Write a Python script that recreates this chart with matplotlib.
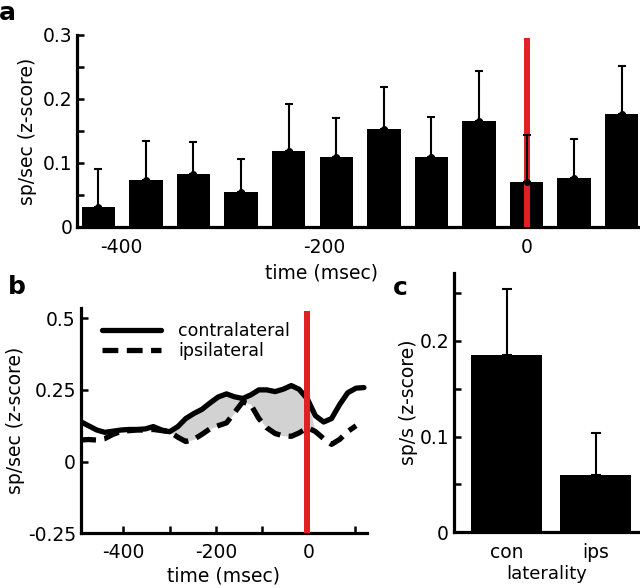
import numpy as np
import matplotlib
matplotlib.use("Agg")
import matplotlib.pyplot as plt

plt.rcParams['font.family'] = ['DejaVu Sans']
plt.rcParams['axes.unicode_minus'] = False

# panel a: binned firing rate
bin_time = [-423, -376, -329, -282, -235, -188, -141, -94, -47, 0, 47, 94]
bin_rate = [0.031, 0.073, 0.082, 0.055, 0.119, 0.110, 0.153, 0.109, 0.166, 0.070, 0.076, 0.177]
bin_err = [0.060, 0.061, 0.051, 0.051, 0.073, 0.060, 0.066, 0.063, 0.077, 0.073, 0.062, 0.075]

# panel b: smoothed traces
trace_time = [-493, -475, -457, -440, -422, -405, -387, -370, -352, -335, -317, -300,
              -282, -265, -247, -230, -212, -195, -177, -160, -142, -125, -107, -90,
              -72, -55, -37, -20, -2, 15, 33, 50, 68, 85, 103, 120]
contra = [0.140, 0.125, 0.110, 0.102, 0.106, 0.110, 0.112, 0.112, 0.114, 0.122, 0.110, 0.104,
          0.122, 0.150, 0.168, 0.182, 0.205, 0.225, 0.236, 0.226, 0.220, 0.232, 0.250, 0.250,
          0.244, 0.252, 0.265, 0.252, 0.218, 0.160, 0.138, 0.150, 0.200, 0.240, 0.256, 0.258]
ipsi = [0.075, 0.077, 0.075, 0.080, 0.095, 0.105, 0.108, 0.110, 0.110, 0.112, 0.108, 0.104,
        0.085, 0.070, 0.078, 0.095, 0.115, 0.125, 0.135, 0.170, 0.208, 0.200, 0.150, 0.118,
        0.098, 0.090, 0.088, 0.100, 0.118, 0.105, 0.080, 0.060, 0.078, 0.105, 0.125, np.nan]

# panel c: laterality
lat_names = ['con', 'ips']
lat_rate = [0.185, 0.060]
lat_err = [0.069, 0.044]

red = '#e41e26'
fig = plt.figure(figsize=(6.4, 5.88), dpi=100)


def style(ax):
    for s in ['top', 'right']:
        ax.spines[s].set_visible(False)
    for s in ['left', 'bottom']:
        ax.spines[s].set_linewidth(2.3)
    ax.tick_params(direction='in', length=5, width=1.8, labelsize=13.5)


# ---- a
axa = fig.add_axes([0.1203, 0.614, 0.8797, 0.3265])
axa.bar(bin_time, bin_rate, width=33, color='black', zorder=1)
axa.vlines(0, 0, 0.296, color=red, lw=4.3, zorder=3)
axa.errorbar(bin_time, bin_rate, yerr=[np.zeros(len(bin_err)), bin_err], fmt='o', color='black',
             ms=4, elinewidth=1.5, capsize=3, capthick=1.5, zorder=4)
axa.set_xlim(-444, 112)
axa.set_ylim(0, 0.3)
axa.set_xticks([-400, -200, 0])
axa.set_yticks(np.arange(0, 0.301, 0.05))
axa.set_yticklabels(['0', '', '0.1', '', '0.2', '', '0.3'])
style(axa)
axa.tick_params(axis='x', length=0, pad=8)
axa.set_xlabel('time (msec)', fontsize=13.5)
axa.xaxis.set_label_coords(0.435, -0.19)
axa.set_ylabel('sp/sec (z-score)', fontsize=13.5, labelpad=4)

# ---- b
axb = fig.add_axes([0.126, 0.093, 0.447, 0.383])
t = np.array(trace_time)
c = np.array(contra)
i = np.array(ipsi)
axb.fill_between(t, i, c, where=(t >= -290) & (t <= -2), color='#d2d2d2', lw=0, interpolate=True)
axb.plot(t, c, color='black', lw=3.8, solid_capstyle='round', label='contralateral')
axb.plot(t, i, color='black', lw=3.8, ls=(0, (3, 1.6)), label='ipsilateral')
axb.vlines(-3, -0.25, 0.524, color=red, lw=4.3, zorder=3)
axb.set_xlim(-492, 126)
axb.set_ylim(-0.25, 0.535)
axb.set_xticks([-400, -300, -200, -100, 0, 100])
axb.set_xticklabels(['-400', '', '-200', '', '0', ''])
axb.set_yticks([-0.25, 0, 0.25, 0.5])
axb.set_yticklabels(['-0.25', '0', '0.25', '0.5'])
style(axb)
axb.tick_params(axis='x', pad=7)
axb.set_xlabel('time (msec)', fontsize=13.5, labelpad=3)
axb.set_ylabel('sp/sec (z-score)', fontsize=13.5, labelpad=2)
axb.legend(loc='upper left', bbox_to_anchor=(0.075, 0.94), frameon=False, fontsize=12.5,
           handlelength=3.4, handletextpad=1.0, labelspacing=0.12, borderaxespad=0, borderpad=0)

# ---- c
axc = fig.add_axes([0.709, 0.095, 0.291, 0.4407])
axc.bar([1, 2], lat_rate, width=0.8, color='black')
axc.errorbar([1, 2], lat_rate, yerr=[[0, 0], lat_err], fmt='none', ecolor='black',
             elinewidth=1.5, capsize=3.5, capthick=1.5)
axc.set_xlim(0.4, 2.5)
axc.set_ylim(0, 0.271)
axc.set_xticks([1, 2])
axc.set_xticklabels(lat_names)
axc.set_yticks(np.arange(0, 0.26, 0.05))
axc.set_yticklabels(['0', '', '0.1', '', '0.2', ''])
style(axc)
axc.tick_params(axis='x', length=0, pad=8)
axc.set_xlabel('laterality', fontsize=13, labelpad=2)
axc.set_ylabel('sp/s (z-score)', fontsize=13.5, labelpad=1)

fig.text(0.027, 0.512, 'b', fontsize=18, fontweight='bold', ha='center', va='center')
fig.text(0.011, 0.978, 'a', fontsize=18, fontweight='bold', ha='center', va='center')
fig.text(0.625, 0.510, 'c', fontsize=18, fontweight='bold', ha='center', va='center')

fig.savefig('out.png', dpi=100)
